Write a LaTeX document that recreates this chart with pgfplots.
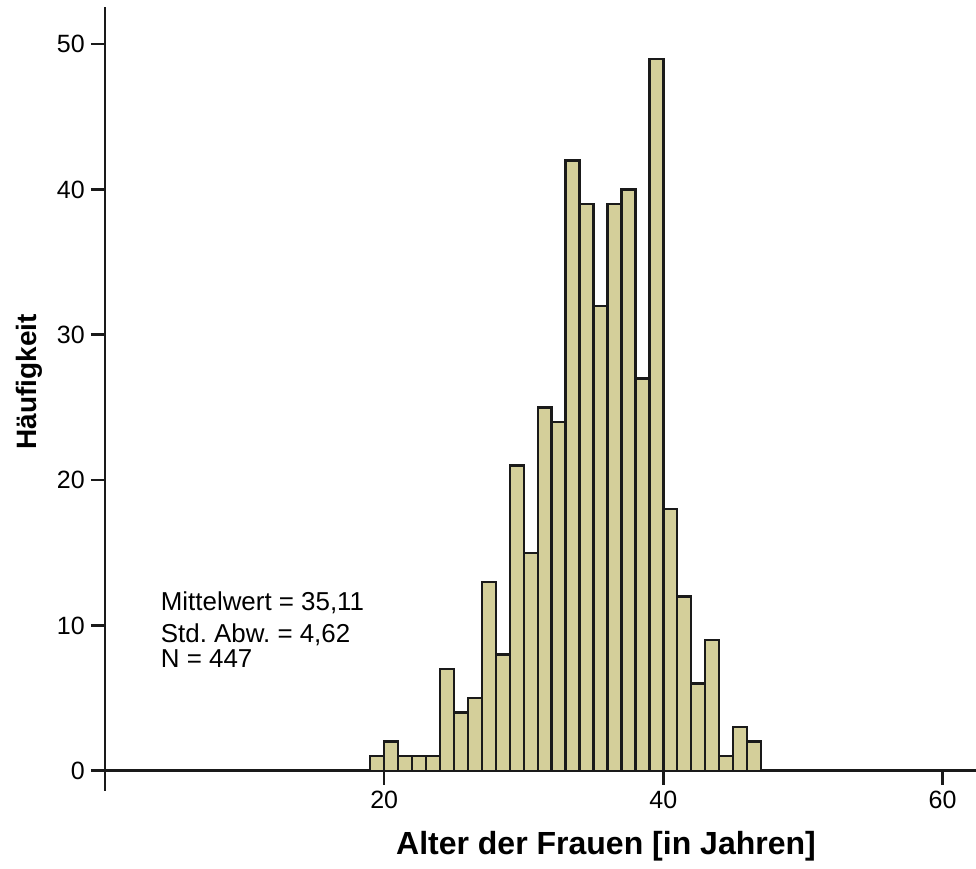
\documentclass[border=0pt]{standalone}
\usepackage{fontspec}
\setmainfont{Liberation Sans}
\usepackage{pgfplots}
\pgfplotsset{compat=1.18}

\definecolor{barfill}{RGB}{212,207,154}
\definecolor{barline}{RGB}{26,26,26}

% Age histogram, one-year bins (left edge, count); the last row closes the final bin
\pgfplotstableread{
left count
19 1
20 2
21 1
22 1
23 1
24 7
25 4
26 5
27 13
28 8
29 21
30 15
31 25
32 24
33 42
34 39
35 32
36 39
37 40
38 27
39 49
40 18
41 12
42 6
43 9
44 1
45 3
46 2
47 0
}\agedata

\begin{document}
\frenchspacing
\begin{tikzpicture}
\path[use as bounding box] (-105pt,-97.3pt) rectangle (871pt,770.7pt);
\begin{axis}[
  name=ax,
  at={(0pt,0pt)}, anchor=south west,
  scale only axis,
  width=871pt, height=763.7pt,
  xmin=0, xmax=62.4,
  ymin=0, ymax=52.56,
  axis lines*=left,
  axis line style={line width=2.6pt, color=barline},
  every tick/.style={line width=2.6pt, color=barline},
  tick align=outside,
  major tick length=14pt,
  xtick={20,40,60},
  ytick={0,10,20,30,40,50},
  extra x ticks={0},
  extra x tick labels={},
  extra x tick style={major tick length=20pt},
  /pgf/number format/assume math mode=true,
  tick label style={font=\fontsize{25}{30}\selectfont},
  xticklabel style={inner sep=0pt, yshift=-6pt},
  yticklabel style={inner sep=0pt, xshift=-6pt},
]
\addplot[ybar interval, fill=barfill, draw=barline, line width=2.4pt]
  table[x=left, y=count] {\agedata};
\end{axis}

\node[anchor=base, inner sep=0pt, font=\bfseries\fontsize{32}{38}\selectfont] at (501pt,-83.3pt)
  {Alter der Frauen [in Jahren]};
\node[anchor=base, rotate=90, inner sep=0pt, font=\bfseries\fontsize{28}{34}\selectfont] at (-68.5pt,389pt)
  {Häufigkeit};

\begin{scope}[every node/.style={anchor=base west, inner sep=0pt, font=\fontsize{25.9}{31}\selectfont}]
  \node at (55.7pt,160pt) {Mittelwert = 35,11};
  \node at (55.7pt,128pt) {Std. Abw. = 4,62};
  \node at (55.7pt,103.4pt) {N = 447};
\end{scope}
\end{tikzpicture}
\end{document}
